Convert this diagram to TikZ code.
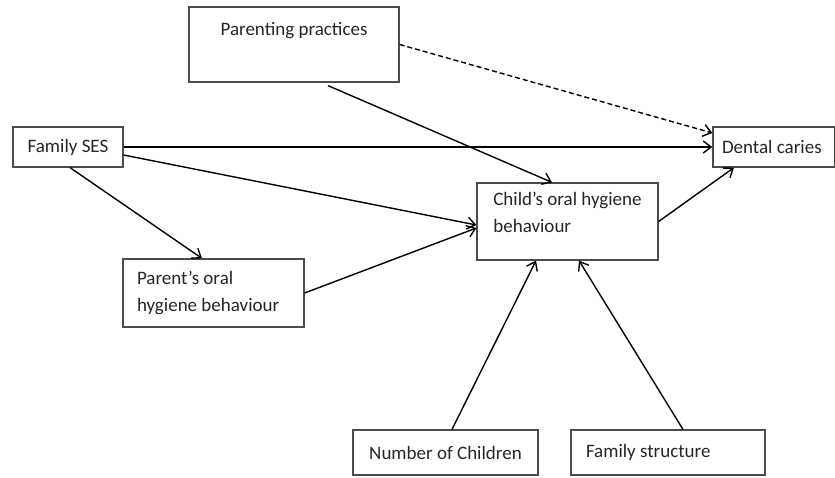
\documentclass[tikz,border=0pt]{standalone}
\usepackage{fontspec}
\setmainfont{Carlito}
\usetikzlibrary{arrows.meta}

\begin{document}
\begin{tikzpicture}[
    x=1pt, y=-1pt,
    box/.style={
        rectangle,
        draw=black!70,
        line width=1.2pt,
        fill=white,
        text=black!85,
        font=\fontsize{19}{27}\selectfont
    },
    textbox/.style={
        box,
        align=flush left,
        inner sep=0pt
    },
    link/.style={
        -{Straight Barb[length=8pt,width=12pt]},
        line width=1.4pt,
        draw=black
    }
]

% Page size of the reference
\useasboundingbox (0,0) rectangle (835,477);

% Boxes
\node[box, inner sep=0pt, minimum width=210pt, text height=28pt, text depth=47pt] (parenting) at (294,44.5) {Parenting practices};
\node[textbox, minimum width=110pt, minimum height=40pt] (ses) at (68,147) {Family SES};
\node[textbox, text width=104pt, inner xsep=9pt, minimum height=40pt] (caries) at (774,147) {Dental caries};
\node[textbox, minimum width=181pt, minimum height=77pt] (child) at (567.5,221.5) {Child’s oral hygiene\\behaviour\rule[-18pt]{0pt}{0pt}};
\node[textbox, text width=153pt, inner xsep=14pt, minimum height=68pt] (parent) at (213.5,293) {Parent’s oral\\hygiene behaviour};
\node[textbox, minimum width=185pt, minimum height=45pt] (children) at (445.5,452.5) {Number of Children};
\node[textbox, text width=164pt, inner xsep=15pt, minimum height=45pt] (structure) at (668,452.5) {Family structure};

% Arrows from family SES
\draw[link] ([xshift=2pt]ses.south) -- ([xshift=-11.5pt]parent.north);
\draw[link] (ses.east) -- (caries.west);
\draw[link] ([yshift=-8pt]ses.east) -- ([yshift=-3.5pt]child.west);

% Arrows into the child's behaviour box
\draw[link] (parent.east) -- ([yshift=-6.5pt]child.west);
\draw[link] ([xshift=34pt,yshift=-3pt]parenting.south) -- ([xshift=-15.5pt]child.north);
\draw[link] ([xshift=6.5pt]children.north) -- ([xshift=-31.5pt]child.south);
\draw[link] ([xshift=15pt]structure.north) -- ([xshift=11.5pt]child.south);

% Arrows into dental caries
\draw[link, dash pattern=on 5pt off 3pt] (parenting.east) -- ([yshift=14pt]caries.west);
\draw[link] (child.east) -- ([xshift=-40pt]caries.south);

\end{tikzpicture}
\end{document}
